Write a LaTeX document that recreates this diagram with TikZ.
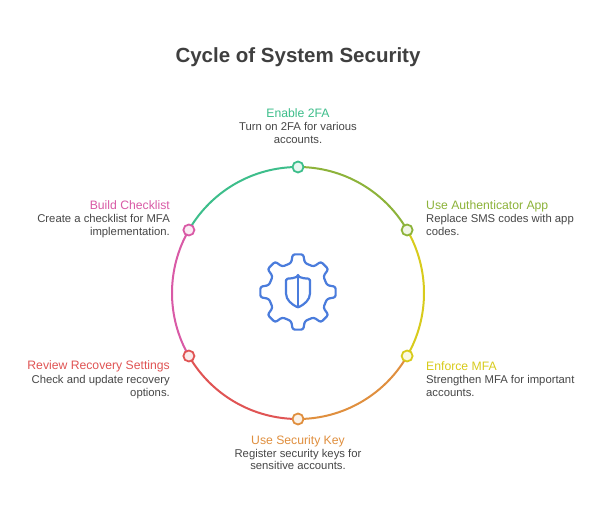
\documentclass[tikz,border=0pt]{standalone}
\usepackage{fontspec}
\setmainfont{Liberation Sans}
\definecolor{cA}{HTML}{3DBE8B}
\definecolor{cB}{HTML}{8DB33A}
\definecolor{cC}{HTML}{D8CB1C}
\definecolor{cD}{HTML}{E08F3E}
\definecolor{cE}{HTML}{E05454}
\definecolor{cF}{HTML}{D95AA6}
\definecolor{txtgray}{HTML}{474747}
\definecolor{ttlgray}{HTML}{3F3F3F}
\definecolor{iconblue}{HTML}{4A7CDC}
\begin{document}
\begin{tikzpicture}[x=1pt,y=1pt,
  ttl/.style={font=\fontsize{12.2}{14}\selectfont, inner sep=0},
  dsc/.style={font=\fontsize{11.3}{13}\selectfont, text=txtgray, inner sep=0},
  ring/.style={line width=2pt},
  dot/.style={circle, draw, line width=1.8pt, minimum size=11pt, inner sep=0},
  icon/.style={draw=iconblue, line width=2.2pt, line join=round, line cap=round}]
\fill[white] (0,0) rectangle (602,509);
\useasboundingbox (0,0) rectangle (602,509);
\coordinate (c) at (298,216);
\coordinate (gc) at (298,217);
\coordinate (p1) at ([shift={(90:126)}]c);
\coordinate (p2) at ([shift={(30:126)}]c);
\coordinate (p3) at ([shift={(-30:126)}]c);
\coordinate (p4) at ([shift={(-90:126)}]c);
\coordinate (p5) at ([shift={(-150:126)}]c);
\coordinate (p6) at ([shift={(150:126)}]c);
% ring arcs
\draw[ring, cB] (p1) arc[start angle=90, end angle=30, radius=126];
\draw[ring, cC] (p2) arc[start angle=30, end angle=-30, radius=126];
\draw[ring, cD] (p3) arc[start angle=-30, end angle=-90, radius=126];
\draw[ring, cE] (p4) arc[start angle=-90, end angle=-150, radius=126];
\draw[ring, cF] (p5) arc[start angle=-150, end angle=-210, radius=126];
\draw[ring, cA] (p6) arc[start angle=150, end angle=90, radius=126];
% dots
\node[dot, draw=cA, fill=cA!12] (n1) at (p1) {};
\node[dot, draw=cB, fill=cB!12] (n2) at (p2) {};
\node[dot, draw=cC, fill=cC!12] (n3) at (p3) {};
\node[dot, draw=cD, fill=cD!12] (n4) at (p4) {};
\node[dot, draw=cE, fill=cE!12] (n5) at (p5) {};
\node[dot, draw=cF, fill=cF!12] (n6) at (p6) {};
% title
\node[inner sep=0, anchor=base, text=ttlgray, font=\fontsize{20.5}{24}\selectfont\bfseries] (title) at (298,446) {Cycle of System Security};
% Enable 2FA
\node[ttl, text=cA, anchor=base] (t1) at (298,391) {Enable 2FA};
\node[dsc, anchor=base] (d1a) at (298,378) {Turn on 2FA for various};
\node[dsc, anchor=base] (d1b) at (298,365.5) {accounts.};
% Authenticator
\node[ttl, text=cB, anchor=base west] (t2) at (426,299.5) {Use Authenticator App};
\node[dsc, anchor=base west] (d2a) at (426,286) {Replace SMS codes with app};
\node[dsc, anchor=base west] (d2b) at (426,273) {codes.};
% Enforce MFA
\node[ttl, text=cC, anchor=base west] (t3) at (426,139) {Enforce MFA};
\node[dsc, anchor=base west] (d3a) at (426,126) {Strengthen MFA for important};
\node[dsc, anchor=base west] (d3b) at (426,113) {accounts.};
% Security key
\node[ttl, text=cD, anchor=base] (t4) at (298,65) {Use Security Key};
\node[dsc, anchor=base] (d4a) at (298,52) {Register security keys for};
\node[dsc, anchor=base] (d4b) at (298,40) {sensitive accounts.};
% Recovery
\node[ttl, text=cE, anchor=base east] (t5) at (170,139.5) {Review Recovery Settings};
\node[dsc, anchor=base east] (d5a) at (170,126) {Check and update recovery};
\node[dsc, anchor=base east] (d5b) at (170,113) {options.};
% Checklist
\node[ttl, text=cF, anchor=base east] (t6) at (170,299) {Build Checklist};
\node[dsc, anchor=base east] (d6a) at (170,286) {Create a checklist for MFA};
\node[dsc, anchor=base east] (d6b) at (170,273) {implementation.};
% gear
\begin{scope}[shift={(298,217)}]
\draw[icon, rounded corners=2.2pt] (77:30)
  \foreach \k [evaluate=\k as \a using 90+45*\k] in {0,...,6} {
    -- (\a-8:38) -- (\a+8:38) -- (\a+13:30) -- (\a+22.5:29.3) -- (\a+32:30)
  }
  -- (397:38) -- (413:38) -- (418:30) -- (427.5:29.3) -- cycle;
\draw[icon, rounded corners=1.5pt] (0,15.5) .. controls (-5,13.8) .. (-12,13.2)
  -- (-12,0) .. controls (-12,-8) and (-6,-12.5) .. (0,-15.5)
  .. controls (6,-12.5) and (12,-8) .. (12,0) -- (12,13.2)
  .. controls (5,13.8) .. cycle;
\draw[icon] (0,15.5) -- (0,-15.5);
\end{scope}
\end{tikzpicture}
\end{document}
